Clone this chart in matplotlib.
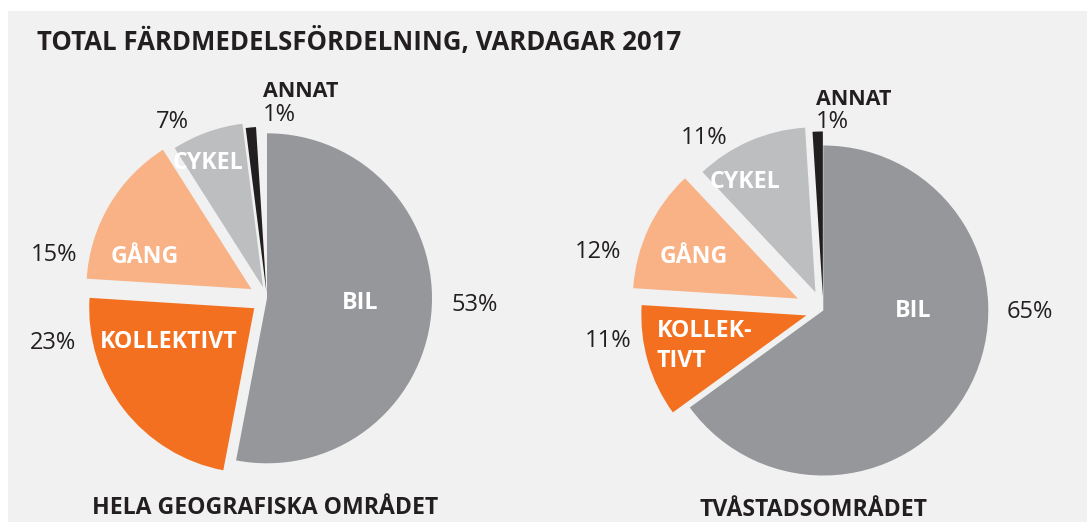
import matplotlib
matplotlib.use("Agg")
import matplotlib.pyplot as plt
from matplotlib.patches import Rectangle

# ---------------- data ----------------
categories = ["BIL", "KOLLEKTIVT", "GÅNG", "CYKEL", "ANNAT"]
left_values = [53, 23, 15, 7, 1]
right_values = [65, 11, 12, 11, 1]
title_text = "TOTAL FÄRDMEDELSFÖRDELNING, VARDAGAR 2017"
left_name = "HELA GEOGRAFISKA OMRÅDET"
right_name = "TVÅSTADSOMRÅDET"
right_inner_names = ["BIL", "KOLLEK-\nTIVT", "GÅNG", "CYKEL", "ANNAT"]

# ---------------- style ----------------
colors = ["#96979a", "#f37021", "#f9b286", "#bdbec0", "#231f20"]
BG = "#f0f1f0"
DARK = "#231f20"
FAM = ["Open Sans", "DejaVu Sans"]

W, H = 1091, 522
R = 165          # pie radius in pixels
HALF = 300       # half size of each pie axes in pixels

fig = plt.figure(figsize=(W / 100, H / 100), dpi=100, facecolor="white")
fig.patches.append(Rectangle((8 / W, 0), (1087 - 8) / W, (H - 11) / H,
                             transform=fig.transFigure, facecolor=BG,
                             edgecolor="none", zorder=-10))


def make_pie(cx, cy, values, explode, normalize):
    ax = fig.add_axes([(cx - HALF) / W, (H - cy - HALF) / H, 2 * HALF / W, 2 * HALF / H])
    ax.set_zorder(1)
    ax.patch.set_alpha(0)
    fr = values if normalize else [v / 100 for v in values]
    ax.pie(fr, colors=colors, startangle=90, counterclock=False,
           explode=explode, normalize=normalize,
           wedgeprops=dict(linewidth=0))
    lim = HALF / R
    ax.set_xlim(-lim, lim)
    ax.set_ylim(-lim, lim)
    ax.set_aspect("equal")
    ax.axis("off")

    def put(x, y, s, **kw):
        ax.text((x - cx) / R, (cy - y) / R, s, clip_on=False, **kw)
    return ax, put


inner_kw = dict(color="white", fontweight="bold", family=FAM, fontsize=16.7,
                va="baseline")
pct_kw = dict(color=DARK, family=FAM, fontsize=17, va="baseline")
annat_kw = dict(color=DARK, fontweight="bold", family=FAM, fontsize=15.5,
                ha="left", va="baseline")

# ---------------- left pie ----------------
axL, putL = make_pie(267, 298.3, left_values, [0, 0.098, 0.11, 0.07, 0.04], False)
left_inner_pos = [(360.5, 309.3), (169, 348.3), (145, 262.7), (207.7, 169)]
left_pct_pos = [(475, 310.7), (53.3, 349), (53.8, 260.7), (172.5, 127.7)]
for name, (x, y) in zip(categories[:4], left_inner_pos):
    putL(x, y, name, ha="center", **inner_kw)
for v, (x, y) in zip(left_values[:4], left_pct_pos):
    putL(x, y, f"{v}%", ha="center", **pct_kw)
putL(262.7, 96.7, categories[4], **annat_kw)
putL(262.7, 121, f"{left_values[4]}%", ha="left", **pct_kw)

# ---------------- right pie ----------------
axR, putR = make_pie(823.3, 310.5, right_values, [0, 0.107, 0.17, 0.12, 0.085], True)
right_inner_pos = [(913.5, 317.3), None, (693.5, 263.3), (745, 188.3)]
right_pct_pos = [(1030, 317.7), (607.8, 346.7), (598.3, 258.3), (704.5, 144)]
for i, name in enumerate(right_inner_names[:4]):
    if right_inner_pos[i] is None:
        continue
    x, y = right_inner_pos[i]
    putR(x, y, name, ha="center", **inner_kw)
kol1, kol2 = right_inner_names[1].split("\n")
putR(656.7, 336.7, kol1, ha="left", **inner_kw)
putR(656.7, 366.7, kol2, ha="left", **inner_kw)
for v, (x, y) in zip(right_values[:4], right_pct_pos):
    putR(x, y, f"{v}%", ha="center", **pct_kw)
putR(816, 105, categories[4], **annat_kw)
putR(816, 128.3, f"{right_values[4]}%", ha="left", **pct_kw)

# ---------------- titles ----------------
fig.text(36.7 / W, 1 - 50 / H, title_text, color=DARK, fontweight="bold",
         family=FAM, fontsize=18.5, ha="left", va="baseline")
fig.text(265 / W, 1 - 514.5 / H, left_name, color=DARK, fontweight="bold",
         family=FAM, fontsize=16.6, ha="center", va="baseline")
fig.text(813.3 / W, 1 - 515.5 / H, right_name, color=DARK, fontweight="bold",
         family=FAM, fontsize=16.6, ha="center", va="baseline")

fig.savefig("out.png", dpi=100, facecolor="white")
